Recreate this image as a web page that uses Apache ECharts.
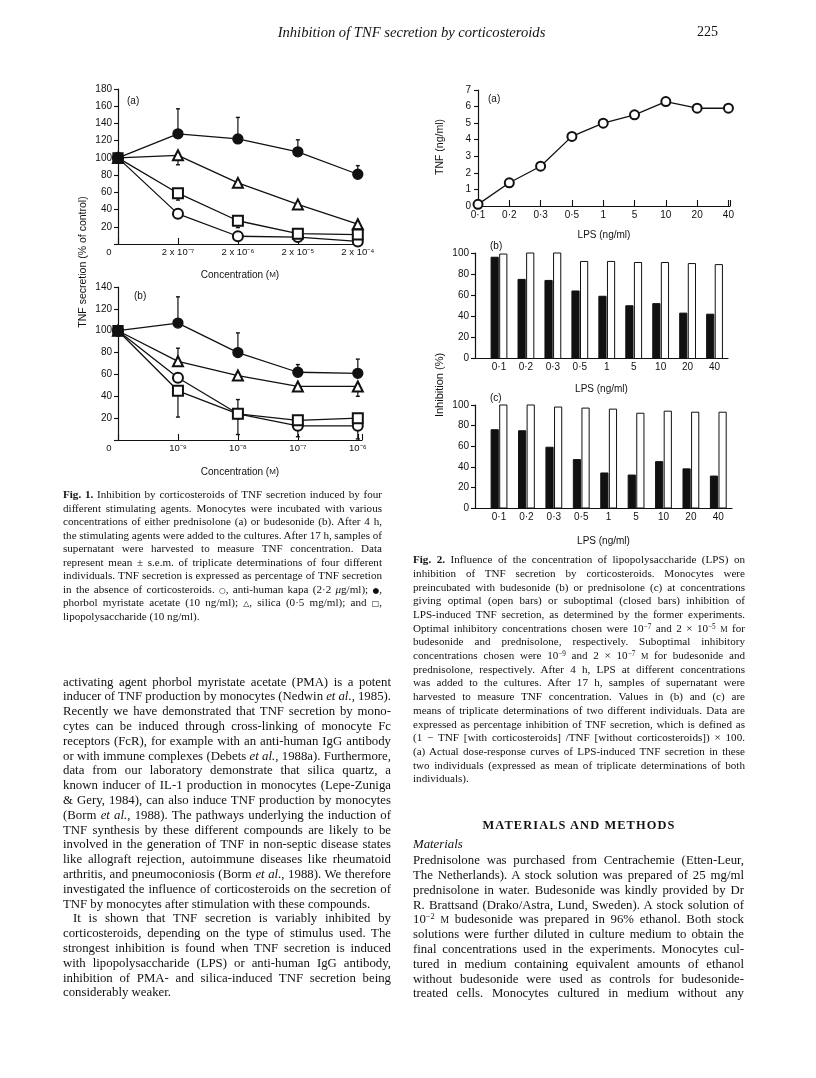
<!DOCTYPE html>
<html><head><meta charset="utf-8">
<script src="https://cdn.jsdelivr.net/npm/echarts/dist/echarts.min.js"></script>
<style>
html,body{margin:0;padding:0;background:#fff;}
#page{position:relative;width:816px;height:1078px;overflow:hidden;background:#fff;}
#chart{position:absolute;left:0;top:0;width:816px;height:1078px;}
.ln{position:absolute;white-space:nowrap;font-family:"Liberation Serif","Times New Roman",serif;color:#111;}
.ln sup{font-size:0.65em;vertical-align:0.45em;line-height:0;}
.sc{font-size:0.75em;}
.sym{font-family:"DejaVu Sans",sans-serif;font-size:0.7em;}
</style>
</head><body>
<div id="page"><div id="chart"></div></div>
<script>
// ---------------- data ----------------
const fig1aXLabels = ['0', '2 x 10⁻⁷', '2 x 10⁻⁶', '2 x 10⁻⁵', '2 x 10⁻⁴'];
const fig1bXLabels = ['0', '10⁻⁹', '10⁻⁸', '10⁻⁷', '10⁻⁶'];
const fig1aPMA     = [100, 128, 122, 107, 81];
const fig1aSilica  = [100, 103, 71, 46, 23];
const fig1aLPS     = [100, 59, 27, 12, 11];
const fig1aAntiIgG = [100, 35, 9, 8, 3];
// [x index, mean, end of error bar]
const fig1aErrors = [[1,128,157],[2,122,147],[3,107,121],[4,81,91],[1,103,92],[1,59,51],[2,27,19],[1,35,41]];
const fig1bPMA     = [100, 107, 80, 62, 61];
const fig1bSilica  = [100, 72, 59, 49, 49];
const fig1bLPS     = [100, 45, 24, 18, 20];
const fig1bAntiIgG = [100, 57, 24, 13, 13];
const fig1bErrors = [[1,107,131],[2,80,98],[3,62,69],[4,61,74],[1,72,84],[4,49,40],[1,45,21],[2,24,37],[2,24,5],[3,14,3],[4,13,1]];
const lpsLabels = ['0·1','0·2','0·3','0·5','1','5','10','20','40'];
const fig2aTNF = [0.1, 1.4, 2.4, 4.2, 5.0, 5.5, 6.3, 5.9, 5.9];
const fig2bSuboptimal = [96, 75, 74, 64, 59, 50, 52, 43, 42];
const fig2bOptimal    = [99, 100, 100, 92, 92, 91, 91, 90, 89];
const fig2cSuboptimal = [76, 75, 59, 47, 34, 32, 45, 38, 31];
const fig2cOptimal    = [100, 100, 98, 97, 96, 92, 94, 93, 93];

// ---------------- chart ----------------
const FONT = 'Liberation Sans';
const BLACK = '#111';
function axisBase(){
  return {
    axisLine:{show:true,onZero:false,lineStyle:{color:BLACK,width:1.2}},
    splitLine:{show:false},
    axisLabel:{color:BLACK,fontFamily:FONT,fontSize:10},
    axisTick:{show:true,lineStyle:{color:BLACK,width:1.1}}
  };
}
function merge(a,b){ for(const k in b){ if(b[k] && typeof b[k]==='object' && !Array.isArray(b[k]) && a[k]) merge(a[k],b[k]); else a[k]=b[k]; } return a; }
const idx = arr => arr.map((v,i)=>[i,v]);

function errItem(params, api){
  const x = api.value(0), a = api.value(1), b = api.value(2);
  const p0 = api.coord([x,a]), p1 = api.coord([x,b]);
  return {type:'group', children:[
    {type:'line', shape:{x1:p0[0],y1:p0[1],x2:p1[0],y2:p1[1]}, style:{stroke:BLACK,lineWidth:1.2}},
    {type:'line', shape:{x1:p1[0]-2,y1:p1[1],x2:p1[0]+2,y2:p1[1]}, style:{stroke:BLACK,lineWidth:1.4}}
  ]};
}
function barItem(offset, filled){
  return function(params, api){
    const x = api.value(0), v = api.value(1);
    const base = api.coord([x,0]), top = api.coord([x,v]);
    const w = 7.2;
    return {type:'rect', shape:{x:base[0]+offset-w/2, y:top[1], width:w, height:base[1]-top[1]},
            style:{fill: filled ? BLACK : '#fff', stroke:BLACK, lineWidth:1}};
  };
}
function lineSeries(data, symbol, xi, size, firstBlack){
  const d = idx(data).map((p,i)=> (i===0 && firstBlack) ? {value:p, symbol:'rect', itemStyle:{color:BLACK}} : p);
  return {type:'line', xAxisIndex:xi, yAxisIndex:xi, data:d, symbol:symbol, symbolSize:size,
    showAllSymbol:true, z:3, silent:true,
    lineStyle:{color:BLACK,width:1.3}, itemStyle:{color:BLACK,borderColor:BLACK,borderWidth:1.3}};
}
function fig1XLabel(labels){
  return {formatter:v=> v===0 ? '{z|0}' : (labels[v]||''), margin:3, fontSize:9.5,
          rich:{z:{padding:[0,18,0,0],fontSize:9.5,fontFamily:FONT,color:BLACK}}};
}
const catVals = lpsLabels.map((_,i)=>i);
const nameStyle = {fontFamily:FONT,fontSize:10,color:BLACK};

const chart = echarts.init(document.getElementById('chart'), null, {renderer:'canvas'});
const option = {
  animation:false,
  backgroundColor:'#fff',
  title:[
    {text:'(a)', left:122, top:91, textStyle:{fontSize:10,fontWeight:'normal',fontFamily:FONT,color:BLACK}},
    {text:'(b)', left:129, top:286, textStyle:{fontSize:10,fontWeight:'normal',fontFamily:FONT,color:BLACK}},
    {text:'(a)', left:483, top:89, textStyle:{fontSize:10,fontWeight:'normal',fontFamily:FONT,color:BLACK}},
    {text:'(b)', left:485, top:236, textStyle:{fontSize:10,fontWeight:'normal',fontFamily:FONT,color:BLACK}},
    {text:'(c)', left:485, top:388, textStyle:{fontSize:10,fontWeight:'normal',fontFamily:FONT,color:BLACK}}
  ],
  grid:[
    {left:118, top:89, width:244, height:155, outerBoundsMode:'none'},
    {left:118, top:287, width:244, height:153, outerBoundsMode:'none'},
    {left:478, top:90, width:252, height:116, outerBoundsMode:'none'},
    {left:475, top:253, width:253, height:105.5, outerBoundsMode:'none'},
    {left:475, top:405, width:257, height:103, outerBoundsMode:'none'}
  ],
  xAxis:[
    merge(axisBase(),{gridIndex:0,type:'value',min:0,max:4.07,interval:1,
      axisTick:{inside:true,length:6}, axisLabel:fig1XLabel(fig1aXLabels),
      name:'Concentration ({s|M})', nameLocation:'middle', nameGap:26,
      nameTextStyle:{fontFamily:FONT,fontSize:10,color:BLACK,rich:{s:{fontSize:8,fontFamily:FONT,color:BLACK}}}}),
    merge(axisBase(),{gridIndex:1,type:'value',min:0,max:4.07,interval:1,
      axisTick:{inside:true,length:6}, axisLabel:fig1XLabel(fig1bXLabels),
      name:'Concentration ({s|M})', nameLocation:'middle', nameGap:27,
      nameTextStyle:{fontFamily:FONT,fontSize:10,color:BLACK,rich:{s:{fontSize:8,fontFamily:FONT,color:BLACK}}}}),
    merge(axisBase(),{gridIndex:2,type:'value',min:0,max:8.05,interval:1,
      axisTick:{inside:true,length:6}, axisLabel:{formatter:v=>lpsLabels[v]||'',margin:4},
      name:'LPS (ng/ml)', nameLocation:'middle', nameGap:24, nameTextStyle:nameStyle}),
    merge(axisBase(),{gridIndex:3,type:'value',min:-0.89,max:8.5,
      axisTick:{show:false}, axisLabel:{customValues:catVals,formatter:v=>lpsLabels[Math.round(v)]||'',margin:4},
      name:'LPS (ng/ml)', nameLocation:'middle', nameGap:26, nameTextStyle:nameStyle}),
    merge(axisBase(),{gridIndex:4,type:'value',min:-0.876,max:8.5,
      axisTick:{show:false}, axisLabel:{customValues:catVals,formatter:v=>lpsLabels[Math.round(v)]||'',margin:4},
      name:'LPS (ng/ml)', nameLocation:'middle', nameGap:28, nameTextStyle:nameStyle})
  ],
  yAxis:[
    merge(axisBase(),{gridIndex:0,type:'value',min:0,max:180,interval:20,
      axisTick:{length:4}, axisLabel:{formatter:v=> v===0?'':String(v), margin:6}}),
    merge(axisBase(),{gridIndex:1,type:'value',min:0,max:140,interval:20,
      axisTick:{length:4}, axisLabel:{formatter:v=> v===0?'':String(v), margin:6}}),
    merge(axisBase(),{gridIndex:2,type:'value',min:0,max:7,interval:1,
      axisTick:{length:4}, axisLabel:{margin:7}}),
    merge(axisBase(),{gridIndex:3,type:'value',min:0,max:100,interval:20,
      axisTick:{length:4}, axisLabel:{margin:6}}),
    merge(axisBase(),{gridIndex:4,type:'value',min:0,max:100,interval:20,
      axisTick:{length:4}, axisLabel:{margin:6}})
  ],
  graphic:[
    {type:'text', x:83, y:262, rotation:Math.PI/2, silent:true,
     style:{text:'TNF secretion (% of control)', fontSize:10.5, fontFamily:FONT, fill:BLACK, letterSpacing:0.8,
            align:'center', verticalAlign:'middle', textAlign:'center', textVerticalAlign:'middle'}},
    {type:'text', x:440, y:147, rotation:Math.PI/2, silent:true,
     style:{text:'TNF (ng/ml)', fontSize:10.5, fontFamily:FONT, fill:BLACK, letterSpacing:0.5,
            align:'center', verticalAlign:'middle', textAlign:'center', textVerticalAlign:'middle'}},
    {type:'text', x:440, y:385, rotation:Math.PI/2, silent:true,
     style:{text:'Inhibition (%)', fontSize:11, fontFamily:FONT, fill:BLACK, letterSpacing:1,
            align:'center', verticalAlign:'middle', textAlign:'center', textVerticalAlign:'middle'}}
  ],
  series:[
    {type:'custom', xAxisIndex:0, yAxisIndex:0, renderItem:errItem, data:fig1aErrors, encode:{x:0,y:[1,2]}, z:1, silent:true},
    lineSeries(fig1aPMA,'circle',0,10),
    lineSeries(fig1aSilica,'emptyTriangle',0,10),
    lineSeries(fig1aAntiIgG,'emptyCircle',0,10),
    lineSeries(fig1aLPS,'emptyRect',0,10,true),
    {type:'custom', xAxisIndex:1, yAxisIndex:1, renderItem:errItem, data:fig1bErrors, encode:{x:0,y:[1,2]}, z:1, silent:true},
    lineSeries(fig1bPMA,'circle',1,10),
    lineSeries(fig1bSilica,'emptyTriangle',1,10),
    lineSeries(fig1bAntiIgG,'emptyCircle',1,10),
    lineSeries(fig1bLPS,'emptyRect',1,10,true),
    lineSeries(fig2aTNF,'emptyCircle',2,9),
    {type:'custom', xAxisIndex:3, yAxisIndex:3, renderItem:barItem(-4.3,true), data:idx(fig2bSuboptimal), encode:{x:0,y:1}, silent:true},
    {type:'custom', xAxisIndex:3, yAxisIndex:3, renderItem:barItem(4.3,false), data:idx(fig2bOptimal), encode:{x:0,y:1}, silent:true},
    {type:'custom', xAxisIndex:4, yAxisIndex:4, renderItem:barItem(-4.3,true), data:idx(fig2cSuboptimal), encode:{x:0,y:1}, silent:true},
    {type:'custom', xAxisIndex:4, yAxisIndex:4, renderItem:barItem(4.3,false), data:idx(fig2cOptimal), encode:{x:0,y:1}, silent:true}
  ]
};
chart.setOption(option);

// ---------------- page text ----------------
const page = document.getElementById('page');
function place(html, left, centerY, size, lineH, extra){
  const d = document.createElement('div');
  d.className = 'ln';
  d.style.left = left+'px';
  d.style.top = (centerY - lineH/2)+'px';
  d.style.fontSize = size+'px';
  d.style.lineHeight = lineH+'px';
  if (extra) Object.assign(d.style, extra);
  d.innerHTML = html;
  page.appendChild(d);
  return d;
}
// lines: [html, flag]  flag: 'L' = last line of paragraph, 'I' = indented first line
function block(lines, left, firstY, width, size, lineH){
  lines.forEach((ln, i) => {
    const html = ln[0], flag = ln[1] || '';
    const indent = flag.indexOf('I') >= 0 ? 10 : 0;
    const d = place(html, left + indent, firstY + i*lineH, size, lineH);
    const w = d.getBoundingClientRect().width;
    const target = width - indent;
    const spaces = (d.textContent.match(/ /g) || []).length;
    if (spaces > 0 && (flag.indexOf('L') < 0 || w > target)) {
      d.style.wordSpacing = ((target - w)/spaces) + 'px';
    }
  });
}

// header
place('<i>Inhibition of TNF secretion by corticosteroids</i>', 0, 32, 14.6, 18, {width:'823px', textAlign:'center'});
place('225', 697, 32, 14, 18);

const fig1Caption = [
  ['<b>Fig. 1.</b> Inhibition by corticosteroids of TNF secretion induced by four'],
  ['different stimulating agents. Monocytes were incubated with various'],
  ['concentrations of either prednisolone (a) or budesonide (b). After 4 h,'],
  ['the stimulating agents were added to the cultures. After 17 h, samples of'],
  ['supernatant were harvested to measure TNF concentration. Data'],
  ['represent mean ± s.e.m. of triplicate determinations of four different'],
  ['individuals. TNF secretion is expressed as percentage of TNF secretion'],
  ['in the absence of corticosteroids. <span class="sym">○</span>, anti-human kapa (2·2 <i>μ</i>g/ml); <span class="sym">●</span>,'],
  ['phorbol myristate acetate (10 ng/ml); <span class="sym">△</span>, silica (0·5 mg/ml); and <span class="sym">□</span>,'],
  ['lipopolysaccharide (10 ng/ml).','L']
];
block(fig1Caption, 63, 495, 319, 11.1, 13.5);

const leftBody = [
  ['activating agent phorbol myristate acetate (PMA) is a potent'],
  ['inducer of TNF production by monocytes (Nedwin <i>et al.</i>, 1985).'],
  ['Recently we have demonstrated that TNF secretion by mono-'],
  ['cytes can be induced through cross-linking of monocyte Fc'],
  ['receptors (FcR), for example with an anti-human IgG antibody'],
  ['or with immune complexes (Debets <i>et al.</i>, 1988a). Furthermore,'],
  ['data from our laboratory demonstrate that silica quartz, a'],
  ['known inducer of IL-1 production in monocytes (Lepe-Zuniga'],
  ['&amp; Gery, 1984), can also induce TNF production by monocytes'],
  ['(Borm <i>et al.</i>, 1988). The pathways underlying the induction of'],
  ['TNF synthesis by these different compounds are likely to be'],
  ['involved in the generation of TNF in non-septic disease states'],
  ['like allograft rejection, autoimmune diseases like rheumatoid'],
  ['arthritis, and pneumoconiosis (Borm <i>et al.</i>, 1988). We therefore'],
  ['investigated the influence of corticosteroids on the secretion of'],
  ['TNF by monocytes after stimulation with these compounds.','L'],
  ['It is shown that TNF secretion is variably inhibited by','I'],
  ['corticosteroids, depending on the type of stimulus used. The'],
  ['strongest inhibition is found when TNF secretion is induced'],
  ['with lipopolysaccharide (LPS) or anti-human IgG antibody,'],
  ['inhibition of PMA- and silica-induced TNF secretion being'],
  ['considerably weaker.','L']
];
block(leftBody, 63, 682, 328, 12.8, 14.8);

const fig2Caption = [
  ['<b>Fig. 2.</b> Influence of the concentration of lipopolysaccharide (LPS) on'],
  ['inhibition of TNF secretion by corticosteroids. Monocytes were'],
  ['preincubated with budesonide (b) or prednisolone (c) at concentrations'],
  ['giving optimal (open bars) or suboptimal (closed bars) inhibition of'],
  ['LPS-induced TNF secretion, as determined by the former experiments.'],
  ['Optimal inhibitory concentrations chosen were 10<sup>−7</sup> and 2 × 10<sup>−5</sup> <span class="sc">M</span> for'],
  ['budesonide and prednisolone, respectively. Suboptimal inhibitory'],
  ['concentrations chosen were 10<sup>−9</sup> and 2 × 10<sup>−7</sup> <span class="sc">M</span> for budesonide and'],
  ['prednisolone, respectively. After 4 h, LPS at different concentrations'],
  ['was added to the cultures. After 17 h, samples of supernatant were'],
  ['harvested to measure TNF concentration. Values in (b) and (c) are'],
  ['means of triplicate determinations of two different individuals. Data are'],
  ['expressed as percentage inhibition of TNF secretion, which is defined as'],
  ['(1 − TNF [with corticosteroids] /TNF [without corticosteroids]) × 100.'],
  ['(a) Actual dose-response curves of LPS-induced TNF secretion in these'],
  ['two individuals (expressed as mean of triplicate determinations of both'],
  ['individuals).','L']
];
block(fig2Caption, 413, 560, 332, 11.1, 13.7);

place('<b>MATERIALS AND METHODS</b>', 413, 825, 12.4, 15, {width:'332px', textAlign:'center', letterSpacing:'1.1px'});
place('<i>Materials</i>', 413, 844, 12.8, 15);

const rightBody = [
  ['Prednisolone was purchased from Centrachemie (Etten-Leur,'],
  ['The Netherlands). A stock solution was prepared of 25 mg/ml'],
  ['prednisolone in water. Budesonide was kindly provided by Dr'],
  ['R. Brattsand (Drako/Astra, Lund, Sweden). A stock solution of'],
  ['10<sup>−2</sup> <span class="sc">M</span> budesonide was prepared in 96% ethanol. Both stock'],
  ['solutions were further diluted in culture medium to obtain the'],
  ['final concentrations used in the experiments. Monocytes cul-'],
  ['tured in medium containing equivalent amounts of ethanol'],
  ['without budesonide were used as controls for budesonide-'],
  ['treated cells. Monocytes cultured in medium without any']
];
block(rightBody, 413, 860.5, 331, 12.8, 14.8);
</script>
</body></html>
